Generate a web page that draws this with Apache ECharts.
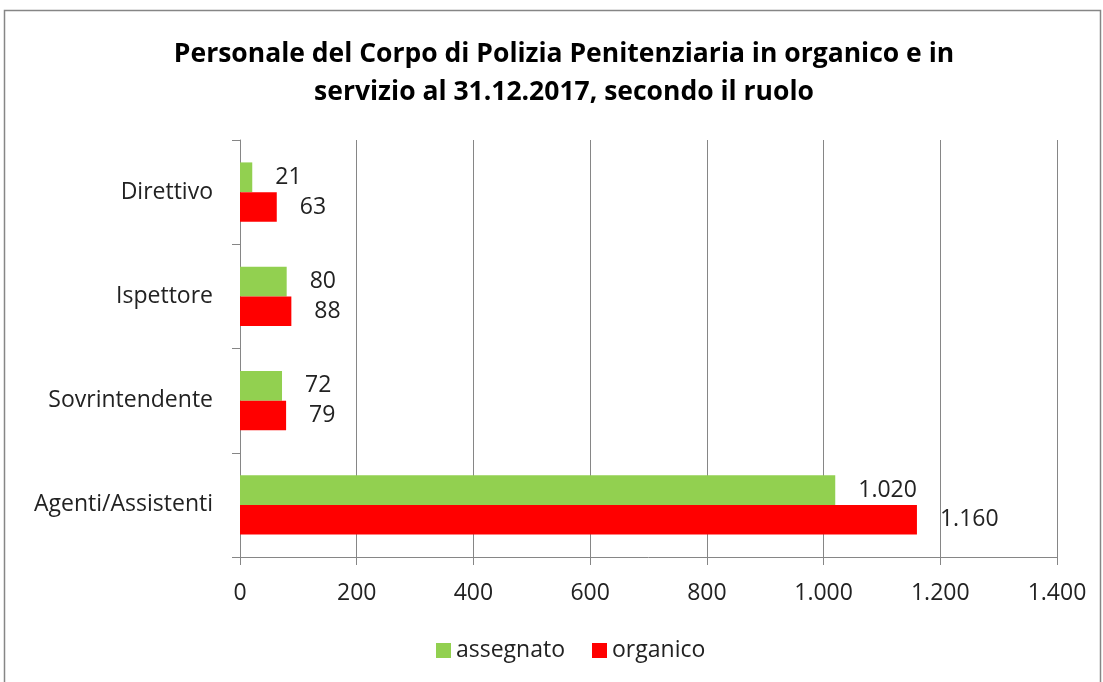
<!DOCTYPE html>
<html>
<head>
<meta charset="utf-8">
<script src="https://cdn.jsdelivr.net/npm/echarts@6/dist/echarts.min.js"></script>
<style>
  html, body { margin: 0; padding: 0; background: #fff; }
  #main { width: 1103px; height: 682px; }
</style>
</head>
<body>
<div id="main"></div>
<script>
var categories = ["Agenti/Assistenti", "Sovrintendente", "Ispettore", "Direttivo"];
var assegnato = [1020, 72, 80, 21];
var organico = [1160, 79, 88, 63];
var xTicks = [0, 200, 400, 600, 800, 1000, 1200, 1400];

var FONT = "Open Sans";

function fmt(v) {
  return String(v).replace(/\B(?=(\d{3})+(?!\d))/g, ".");
}

var chart = echarts.init(document.getElementById("main"));

var labelStyle = {
  show: true,
  position: "right",
  distance: 23,
  fontFamily: FONT,
  fontSize: 23,
  color: "#222",
  formatter: function (p) { return fmt(p.value); }
};

var option = {
  animation: false,
  textStyle: { fontFamily: FONT },
  graphic: [
    {
      type: "rect",
      shape: { x: 4.5, y: 10.5, width: 1096, height: 680 },
      style: { fill: "none", stroke: "#868686", lineWidth: 1.5 },
      silent: true
    }
  ],
  title: {
    text: "Personale del Corpo di Polizia Penitenziaria in organico e in\nservizio al 31.12.2017, secondo il ruolo",
    left: 559,
    textAlign: "center",
    top: 30,
    textStyle: {
      fontFamily: FONT,
      fontSize: 26.5,
      fontWeight: "bold",
      color: "#000",
      lineHeight: 38
    }
  },
  legend: {
    bottom: 15,
    left: 431,
    itemWidth: 15,
    itemHeight: 15,
    itemGap: 27,
    icon: "rect",
    textStyle: { fontFamily: FONT, fontSize: 23, color: "#222" },
    data: ["assegnato", "organico"]
  },
  grid: { left: 240, right: 46, top: 140, bottom: 125 },
  xAxis: {
    type: "value",
    min: xTicks[0],
    max: xTicks[xTicks.length - 1],
    interval: 200,
    axisLine: { show: true, lineStyle: { color: "#868686", width: 1 } },
    axisTick: { show: true, length: 8, lineStyle: { color: "#868686" } },
    splitLine: { show: true, lineStyle: { color: "#868686", width: 1 } },
    axisLabel: {
      margin: 25,
      fontFamily: FONT,
      fontSize: 23,
      color: "#222",
      formatter: function (v) { return fmt(v); }
    }
  },
  yAxis: {
    type: "category",
    data: categories,
    axisLine: { show: true, lineStyle: { color: "#868686", width: 1 } },
    axisTick: { show: true, length: 8, lineStyle: { color: "#868686" } },
    axisLabel: {
      margin: 27,
      fontFamily: FONT,
      fontSize: 23,
      color: "#222"
    }
  },
  series: [
    {
      name: "assegnato",
      type: "bar",
      data: assegnato,
      barCategoryGap: "43%",
      barGap: "0%",
      itemStyle: { color: "#92D050" },
      label: labelStyle
    },
    {
      name: "organico",
      type: "bar",
      data: organico,
      barCategoryGap: "43%",
      barGap: "0%",
      itemStyle: { color: "#FF0000" },
      label: labelStyle
    }
  ]
};

chart.setOption(option);
</script>
</body>
</html>
